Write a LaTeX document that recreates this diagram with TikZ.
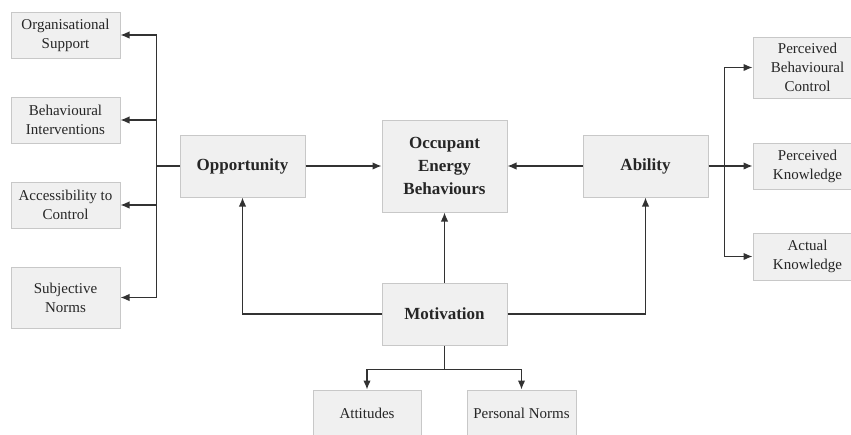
\documentclass[tikz,border=0pt]{standalone}
\usepackage{fontspec}
\setmainfont{Liberation Serif}
\usetikzlibrary{arrows.meta}
\definecolor{BoxFill}{RGB}{240, 240, 240}
\definecolor{BoxLine}{RGB}{200, 200, 200}
\definecolor{LineGray}{RGB}{50, 50, 50}

\begin{document}
\begin{tikzpicture}[x=1pt, y=-1pt,
  factor/.style={draw=BoxLine, fill=BoxFill, line width=1pt, align=center,
    inner sep=2pt, font=\fontsize{15}{19}\selectfont, text=black!85},
  core/.style={factor, minimum width=125pt, minimum height=62pt,
    font=\fontsize{17}{23}\selectfont\bfseries},
  link/.style={draw=LineGray, line width=1.3pt},
  arr/.style={link, -{Latex[length=9pt, width=7.5pt]}}]
\useasboundingbox (0,0) rectangle (851,434);

% main constructs
\node[core] (opp) at (242.5,166) {Opportunity};
\node[core, minimum height=92pt] (oeb) at (444.5,166) {Occupant\\Energy\\Behaviours};
\node[core] (abil) at (645.5,166) {Ability};
\node[core] (mot) at (444.5,314) {Motivation};

% opportunity factors
\node[factor, minimum width=109pt, minimum height=46pt] (org) at (65.5,35) {Organisational\\Support};
\node[factor, minimum width=109pt, minimum height=46pt] (beh) at (65.5,120) {Behavioural\\Interventions};
\node[factor, minimum width=109pt, minimum height=46pt] (acc) at (65.5,205) {Accessibility to\\Control};
\node[factor, minimum width=109pt, minimum height=61pt] (subj) at (65.5,297.5) {Subjective\\Norms};

% ability factors
\node[factor, minimum width=109pt, minimum height=61pt] (pbc) at (807.5,67.5) {Perceived\\Behavioural\\Control};
\node[factor, minimum width=109pt, minimum height=46pt] (pk) at (807.5,166) {Perceived\\Knowledge};
\node[factor, minimum width=109pt, minimum height=47pt] (ak) at (807.5,256.5) {Actual\\Knowledge};

% motivation factors
\node[factor, minimum width=108pt, minimum height=46pt] (att) at (367,413) {Attitudes};
\node[factor, minimum width=109pt, minimum height=46pt] (pn) at (521.5,413) {Personal Norms};

% into the behaviour box
\draw[arr] (opp) -- (oeb);
\draw[arr] (abil) -- (oeb);
\draw[arr] (mot) -- (oeb);
\draw[arr] (mot.west) -| (opp.south);
\draw[arr] (mot.east) -| (abil.south);

% branches
\draw[link] (opp.west) -- ++(-23,0) coordinate (lj);
\foreach \n in {org, beh, acc, subj}
  \draw[arr] (lj) |- (\n.east);
\draw[link] (abil.east) -- ++(16,0) coordinate (rj);
\foreach \n in {pbc, pk, ak}
  \draw[arr] (rj) |- (\n.west);
\draw[link] (mot.south) -- ++(0,24) coordinate (bj);
\draw[arr] (bj) -| (att.north);
\draw[arr] (bj) -| (pn.north);
\end{tikzpicture}
\end{document}
